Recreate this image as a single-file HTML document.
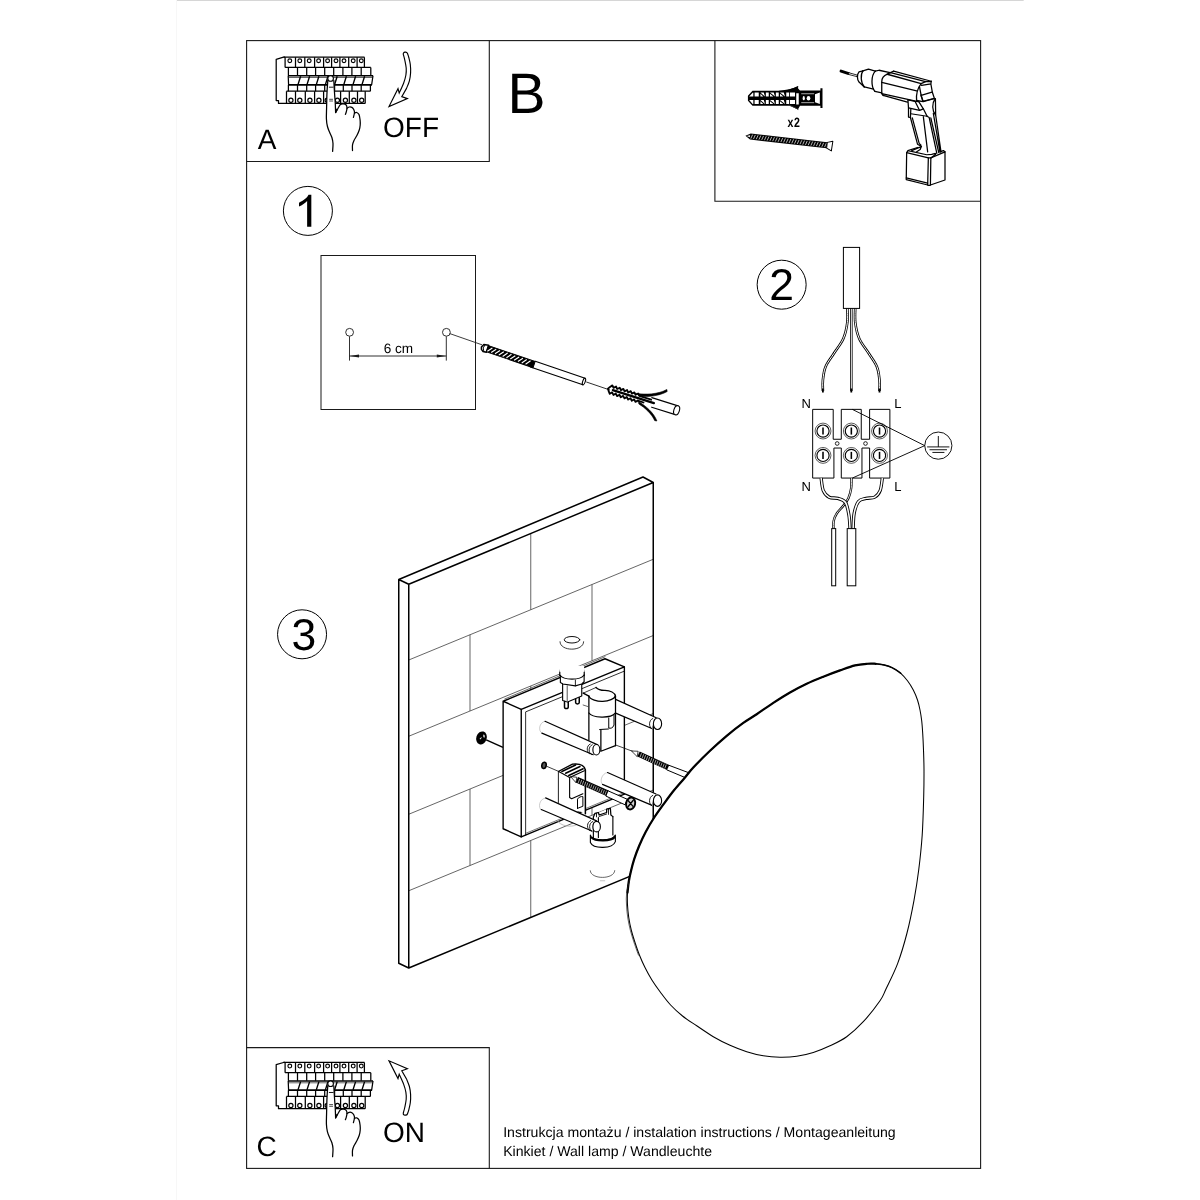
<!DOCTYPE html>
<html><head><meta charset="utf-8"><title>Instrukcja</title>
<style>
html,body{margin:0;padding:0;background:#fff;width:1200px;height:1200px;overflow:hidden}
svg{display:block;filter:grayscale(1)}
text{font-family:"Liberation Sans",sans-serif;fill:#000;text-rendering:geometricPrecision}
.k{fill:none;stroke:#000}
.w{fill:#fff;stroke:#000}
</style></head><body>
<svg width="1200" height="1200" viewBox="0 0 1200 1200">
<rect width="1200" height="1200" fill="#fff"/>
<!-- 01_frame.svg -->
<g id="frame" fill="none" stroke="#1a1a1a" stroke-width="1.1">
<line x1="176" y1="0.5" x2="1023.7" y2="0.5" stroke="#d6d6d6" stroke-width="1"/>
<line x1="176.5" y1="0" x2="176.5" y2="1200" stroke="#f7f7f7" stroke-width="1"/>
<rect x="246.6" y="40.6" width="734" height="1127.8"/>
<path d="M489.3,40.6V161.5H246.6"/>
<path d="M714.9,40.6V201.3H980.6"/>
<path d="M246.6,1047.6H489.3V1168.4"/>
</g>
<g id="labels">
<text x="257.7" y="148.9" font-size="28">A</text>
<text x="383" y="137" font-size="28">OFF</text>
<text x="507.6" y="112.8" font-size="57">B</text>
<text x="256.5" y="1156.3" font-size="28">C</text>
<text x="383" y="1142.3" font-size="28">ON</text>
<circle cx="307.9" cy="210.9" r="24.5" fill="none" stroke="#000" stroke-width="1"/>
<path d="M311.33,194.87H308.53C307.33,197.67 303.33,201 299,202.67V206.47C302,205.33 305.33,203 307.13,201V226.87H311.33Z" fill="#000"/>
<circle cx="781.65" cy="284.7" r="24.5" fill="none" stroke="#000" stroke-width="1"/>
<text x="781.5" y="299.6" font-size="44.5" text-anchor="middle">2</text>
<circle cx="302.05" cy="634.3" r="24.5" fill="none" stroke="#000" stroke-width="1"/>
<text x="303.8" y="650.2" font-size="44.5" text-anchor="middle">3</text>
<text x="503.2" y="1137" font-size="14.1">Instrukcja montażu / instalation instructions / Montageanleitung</text>
<text x="503.2" y="1155.9" font-size="14.1">Kinkiet / Wall lamp / Wandleuchte</text>
</g>

<!-- 02_breaker.svg -->
<defs><g id="brk">
<g fill="none" stroke="#000" stroke-width="1.25" stroke-linejoin="round">
<path d="M285.1,57.2H283.5L276.2,59.3V100.5H278.5V103.4H365.2"/>
<path d="M283.5,57.2H364.5"/>
<path d="M285.1,67.4H370.8"/>
<path d="M285.1,57.2V67.4M295.5,57.2V67.4M304.8,57.2V67.4M314.6,57.2V67.4M323.6,57.2V67.4M331.6,57.2V67.4M339.9,57.2V67.4M348.7,57.2V67.4M357.1,57.2V67.4M364.4,57.2V67.4"/>
<circle cx="289.8" cy="60.8" r="1.9" stroke-width="1.15"/>
<circle cx="299.8" cy="60.8" r="1.9" stroke-width="1.15"/>
<circle cx="309.2" cy="60.8" r="1.9" stroke-width="1.15"/>
<circle cx="318.6" cy="60.8" r="1.9" stroke-width="1.15"/>
<circle cx="327.6" cy="60.8" r="1.9" stroke-width="1.15"/>
<circle cx="336.0" cy="60.8" r="1.9" stroke-width="1.15"/>
<circle cx="344.0" cy="60.8" r="1.9" stroke-width="1.15"/>
<circle cx="353.2" cy="60.8" r="1.9" stroke-width="1.15"/>
<circle cx="361.3" cy="60.8" r="1.9" stroke-width="1.15"/>
<path d="M288.4,67.4V75.5M297.5,67.4V75.5M306.7,67.4V75.5M315.6,67.4V75.5M324.7,67.4V75.5M333.7,67.4V75.5M342.9,67.4V75.5M351.9,67.4V75.5M361.2,67.4V75.5M370.8,67.4V75.5"/>
<path d="M288,75.7H373" stroke-width="1.5"/>
<path d="M289,77.5H372.5" stroke="#666" stroke-width="1"/>
<path d="M288,84.8H372" stroke-width="1.8"/>
<path d="M373,75.7L371.6,85M288.2,75.7L288.6,85"/>
<path d="M300.6,76.3L298.0,84.6M309.6,76.3L307.0,84.6M318.9,76.3L316.3,84.6M328.0,76.3L325.4,84.6M337.2,76.3L334.6,84.6M346.4,76.3L343.8,84.6M355.6,76.3L353.0,84.6M364.6,76.3L362.0,84.6" stroke-width="1.4"/>
<path d="M288.4,85V91.2M297.5,85V91.2M306.7,85V91.2M315.6,85V91.2M324.7,85V91.2M334.6,85V91.2M343.3,85V91.2M352.0,85V91.2M361.2,85V91.2M370.4,85V91.2"/>
<path d="M286.5,91.2H370.4"/>
<path d="M286.5,91.2V103.4M295.5,91.2V103.4M305.3,91.2V103.4M314.6,91.2V103.4M323.6,91.2V103.4M332.2,91.2V103.4M340.6,91.2V103.4M349.3,91.2V103.4M357.5,91.2V103.4M365.2,91.2V103.4"/>
<circle cx="290.9" cy="100.2" r="2.1" stroke-width="1.2"/>
<circle cx="299.8" cy="100.2" r="2.1" stroke-width="1.2"/>
<circle cx="309.9" cy="100.2" r="2.1" stroke-width="1.2"/>
<circle cx="318.9" cy="100.2" r="2.1" stroke-width="1.2"/>
<circle cx="327.2" cy="100.2" r="2.1" stroke-width="1.2"/>
<circle cx="337.4" cy="100.2" r="2.1" stroke-width="1.2"/>
<circle cx="345.4" cy="100.2" r="2.1" stroke-width="1.2"/>
<circle cx="353.9" cy="100.2" r="2.1" stroke-width="1.2"/>
<circle cx="361.7" cy="100.2" r="2.1" stroke-width="1.2"/>
</g>
<path d="M327.80,80.50 L327.00,92.50 L326.60,107.50 L326.40,118.75 L327.40,126.25 L329.60,132.25 L331.90,137.50 L333.00,143.50 L332.60,151.40 L352.50,150.60 L352.50,150.60 L352.50,145.00 L354.00,140.50 L357.00,135.25 L359.25,130.00 L360.20,125.00 L360.10,120.00 L359.00,114.60 L356.75,112.50 L354.50,113.00 L353.40,117.40 L354.50,112.50 L353.75,109.50 L351.90,107.40 L349.25,107.00 L347.00,108.20 L345.40,114.40 L346.30,111.75 L347.00,108.00 L346.20,105.00 L343.40,103.80 L340.40,104.40 L338.20,108.00 L335.60,112.60 L335.60,112.40 L335.25,103.00 L334.50,92.50 L333.80,80.50 Z" fill="#fff" stroke="none"/>
<g fill="none" stroke="#000" stroke-width="1.25" stroke-linecap="round" stroke-linejoin="round">
<path d="M327.80,80.50 C327.67,82.50 327.20,88.00 327.00,92.50 C326.80,97.00 326.70,103.12 326.60,107.50 C326.50,111.88 326.27,115.62 326.40,118.75 C326.53,121.88 326.87,124.00 327.40,126.25 C327.93,128.50 328.85,130.38 329.60,132.25 C330.35,134.12 331.33,135.62 331.90,137.50 C332.47,139.38 332.88,141.18 333.00,143.50 C333.12,145.82 332.67,150.08 332.60,151.40"/>
<path d="M333.80,80.50 C333.92,82.50 334.26,88.75 334.50,92.50 C334.74,96.25 335.07,99.68 335.25,103.00 C335.43,106.32 335.54,110.83 335.60,112.40"/>
<path d="M335.60,112.60 C336.03,111.83 337.40,109.37 338.20,108.00 C339.00,106.63 339.53,105.10 340.40,104.40 C341.27,103.70 342.43,103.70 343.40,103.80 C344.37,103.90 345.60,104.30 346.20,105.00 C346.80,105.70 346.98,106.88 347.00,108.00 C347.02,109.12 346.57,110.68 346.30,111.75 C346.03,112.82 345.55,113.96 345.40,114.40"/>
<path d="M347.00,108.20 C347.38,108.00 348.43,107.13 349.25,107.00 C350.07,106.87 351.15,106.98 351.90,107.40 C352.65,107.82 353.32,108.65 353.75,109.50 C354.18,110.35 354.56,111.18 354.50,112.50 C354.44,113.82 353.58,116.58 353.40,117.40"/>
<path d="M354.50,113.00 C354.88,112.92 356.00,112.23 356.75,112.50 C357.50,112.77 358.44,113.35 359.00,114.60 C359.56,115.85 359.90,118.27 360.10,120.00 C360.30,121.73 360.34,123.33 360.20,125.00 C360.06,126.67 359.78,128.29 359.25,130.00 C358.72,131.71 357.88,133.50 357.00,135.25 C356.12,137.00 354.75,138.88 354.00,140.50 C353.25,142.12 352.75,143.32 352.50,145.00 C352.25,146.68 352.50,149.67 352.50,150.60"/>
<path d="M335.6,112.6L335.7,108.6L337.2,109.6Z" fill="#000" stroke-width="0.5"/>
<path d="M329.3,87.2H333.1" stroke-width="0.9"/>
<path d="M329.6,99.3H332.6M329.6,101H332.6" stroke-width="0.7"/>
<circle cx="330.6" cy="78.4" r="2.8" fill="#fff" stroke-width="1.1"/>
</g>
</g>
<path id="arw" d="M403.30,54.30 C403.54,55.22 404.27,57.52 404.75,59.80 C405.23,62.08 406.01,65.47 406.20,68.00 C406.39,70.53 406.33,72.47 405.90,75.00 C405.47,77.53 404.72,80.18 403.60,83.20 C402.48,86.22 399.93,91.45 399.20,93.10 L398,88.7 L389,106.5 L407.4,98.6 L401.8,96.6 L406.5,88.4 C406.98,87.13 408.72,83.42 409.40,80.80 C410.08,78.18 410.45,75.42 410.60,72.70 C410.75,69.98 410.60,67.03 410.30,64.50 C410.00,61.97 409.28,59.37 408.80,57.50 C408.32,55.63 407.63,54.00 407.40,53.30 C406.9,51.6 402.7,51.6 403.3,54.3Z" fill="#fff" stroke="#000" stroke-width="1.15" stroke-linejoin="miter"/>
</defs>
<use href="#brk"/>
<use href="#arw"/>
<use href="#brk" transform="translate(0,1005.3)"/>
<use href="#arw" transform="translate(0,1167.3) scale(1,-1)"/>
<!-- 03_tools.svg -->
<g id="tanchor" transform="translate(740,80) scale(0.083333)">
<path d="M95,190L150,130H540L690,80L700,105L720,125H965V100H990V335H965V310H720L695,355L600,310H150L95,250Z" fill="#000"/>
<path d="M110,198L152,152H160V198ZM110,240H160V288H152ZM175,150H225V198H175ZM175,240H225V288H175ZM310,150H345V198H310ZM310,240H345V288H310ZM430,150H465V198H430ZM430,240H465V288H430ZM555,150H590V198H555ZM555,240H590V288H555ZM600,150H660V198H600ZM600,240H660V288H600ZM245,150H285L300,198ZM245,165L280,198H245ZM245,240H285L300,288ZM245,255L280,288H245ZM360,150H405L420,198ZM360,165L400,198H360ZM360,240H405L420,288ZM360,255L400,288H360ZM480,150H525L540,198ZM480,165L520,198H480ZM480,240H525L540,288ZM480,255L520,288H480ZM675,160H705V295H675ZM900,172L958,150V287L900,268Z" fill="#fff"/>
<ellipse cx="765" cy="218" rx="13" ry="26" fill="#fff"/><ellipse cx="822" cy="218" rx="22" ry="27" fill="#fff"/>
<path d="M735,165H890M735,272H890" stroke="#fff" stroke-width="8"/>
<path d="M470,136C560,130 640,110 692,82" stroke="#000" stroke-width="17" fill="none" stroke-linecap="round"/>
<path d="M585,300C630,318 670,335 697,352" stroke="#333" stroke-width="11" fill="none" stroke-linecap="round"/>
</g>
<g transform="translate(740,80) scale(0.083333) translate(65,670) rotate(6.55)">
<path d="M0,0L60,-36H985V38H60Z" fill="#000"/>
<path d="M84,-24L68,26M117,-24L101,26M150,-24L134,26M183,-24L167,26M216,-24L200,26M249,-24L233,26M282,-24L266,26M315,-24L299,26M348,-24L332,26M381,-24L365,26M414,-24L398,26M447,-24L431,26M480,-24L464,26M513,-24L497,26M546,-24L530,26M579,-24L563,26M612,-24L596,26M645,-24L629,26M678,-24L662,26M711,-24L695,26M744,-24L728,26M777,-24L761,26M810,-24L794,26M843,-24L827,26M876,-24L860,26M909,-24L893,26M942,-24L926,26M975,-24L959,26" stroke="#fff" stroke-width="8"/>
<path d="M15,-1L55,-14V12Z" fill="#fff"/>
<path d="M985,-34L1050,-55L1045,62L985,36Z" fill="#fff" stroke="#000" stroke-width="12" stroke-linejoin="round"/>
</g>
<text transform="translate(787.6,127.4) scale(0.78,1)" font-size="13.6" font-weight="bold" letter-spacing="0.6">x2</text>
<g transform="translate(835,62) scale(0.091667)" fill="none" stroke="#000" stroke-width="14" stroke-linecap="round" stroke-linejoin="round">
<path d="M66,99L150,126" stroke-width="32"/>
<path d="M150,117L243,143L241,160L148,136Z" fill="#fff" stroke-width="9"/>
<path d="M262,108C238,135 240,190 262,218M262,108L305,96M262,218L320,272"/>
<path d="M305,96C276,135 280,230 320,272"/>
<path d="M305,96L365,78L440,100M320,272L420,296"/>
<path d="M440,100C392,150 392,270 435,320"/>
<path d="M440,100L480,90L600,116M435,320L510,337"/>
<path d="M570,132C525,150 510,178 510,215L510,345L525,365M570,132L640,100"/>
<path d="M640,100L1050,210M605,117L988,214M510,222L890,316M510,345L880,427M525,365L790,437"/>
<path d="M570,134L940,236" stroke-width="15"/>
<path d="M1050,210L1046,240L1062,330L1085,400M940,236L988,214L1050,212M945,254L1046,238"/>
<path d="M940,236C902,285 882,330 890,420"/>
<path d="M922,272L940,365L962,432M940,365L1058,328M962,432L1080,400M890,420L962,432"/>
</g>
<g transform="translate(890,90) scale(0.083333)" fill="none" stroke="#000" stroke-width="15" stroke-linecap="round" stroke-linejoin="round">
<path d="M215,118L300,136L345,140"/>
<path d="M215,118L222,215L222,325L245,330L250,228"/>
<path d="M222,215L355,245L400,226M250,285L445,315"/>
<path d="M300,136L355,245M345,140L400,226L445,315"/>
<path d="M370,60L395,135M395,135L535,100"/>
<path d="M245,330L330,650L378,678M268,335L350,640L372,662"/>
<path d="M400,320L452,742"/>
<path d="M445,315L470,330L562,760M490,335L585,750"/>
<path d="M545,105L548,300L612,742M520,280L600,745"/>
<path d="M542,105C500,160 505,250 546,300"/>
<path d="M200,752L195,1075L452,1140L460,815Z" fill="#fff"/>
<path d="M490,815L660,742L660,1080L485,1140Z" fill="#fff"/>
<path d="M460,815L490,815M452,1140Q470,1150 485,1140"/>
<path d="M200,752L215,727L330,690M215,727L440,777L500,772L545,760M490,815L545,775L545,760M660,742L640,727L600,742"/>
<path d="M195,1055L452,1118"/>
<path d="M260,727L345,692L375,680L362,715L320,742"/>
</g>
<!-- 04_step1.svg -->
<g fill="none" stroke="#1a1a1a" stroke-width="1">
<rect x="321" y="255.5" width="154.5" height="154"/>
<circle cx="349.6" cy="332.3" r="3.9" stroke-width="0.9"/><circle cx="446.4" cy="332.3" r="3.9" stroke-width="0.9"/>
<path d="M349.5,336.4V360.6M446.3,336.4V360.6M349.5,356H446.3" stroke-width="0.9"/>
<path d="M349.8,356L359,354.5V357.5ZM446,356L436.8,354.5V357.5Z" fill="#1a1a1a" stroke="none"/>
<path d="M449.8,333.6L482,344.8" stroke-width="0.85"/>
</g>
<text x="398.4" y="353" font-size="13.6" text-anchor="middle">6 cm</text>
<g transform="translate(470,330) scale(0.18333)" fill="none" stroke="#000" stroke-width="6" stroke-linejoin="round" stroke-linecap="round">
<path d="M636,284L762,327" stroke-width="4.5"/>
<g transform="translate(80,97) rotate(18.75)">
<path d="M-18,2L-10,-16L16,-20V20L-2,22L-14,14Z" fill="#fff" stroke-width="8"/>
<path d="M-2,-18L-8,2L2,20" stroke-width="5"/>
<path d="M16,-18H285V18H16Z" fill="#000" stroke-width="5"/>
<path d="M20,13L40,-13M42,13L62,-13M64,13L84,-13M86,13L106,-13M108,13L128,-13M130,13L150,-13M152,13L172,-13M174,13L194,-13M196,13L216,-13M218,13L238,-13M240,13L260,-13" stroke="#fff" stroke-width="6.5" stroke-linecap="butt"/>
<path d="M285,-19H572M270,19H572" stroke-width="6.5"/>
<ellipse cx="572" cy="0" rx="7" ry="19" fill="#fff" stroke-width="6"/>
</g>
<g transform="translate(760,322) rotate(17.5)">
<path d="M235,-25H385M250,25H385" stroke-width="6"/>
<ellipse cx="385" cy="0" rx="15" ry="26" fill="#fff" stroke-width="6"/>
<path d="M150,-22C200,-30 262,-52 300,-92L305,-82C272,-46 215,-22 175,-14Z" fill="#000" stroke-width="3"/>
<path d="M170,16C215,28 268,48 300,88L288,90C262,60 215,38 180,30Z" fill="#000" stroke-width="3"/>
<path d="M-8,0L0,-12L10,-24L20,-13L31,-24L41,-13L52,-24L62,-13L73,-24L83,-13L94,-24L104,-13L115,-24L125,-13L136,-24L146,-13L157,-24L167,-13L235,-13M-8,0L0,12L10,24L20,13L31,24L41,13L52,24L62,13L73,24L83,13L94,24L104,13L115,24L125,13L136,24L146,13L157,24L167,13L200,14" stroke-width="10"/>
<path d="M20,0H255" stroke-width="12"/>
</g>
</g>
<!-- 05_step2.svg -->
<path d="M847.30,306.00 C847.30,308.78 847.97,317.25 847.30,322.70 C846.63,328.15 845.52,333.60 843.30,338.70 C841.08,343.80 836.95,348.63 834.00,353.30 C831.05,357.97 827.45,362.25 825.60,366.70 C823.75,371.15 823.35,375.95 822.90,380.00 C822.45,384.05 822.90,389.17 822.90,391.00" fill="none" stroke="#000" stroke-width="2.60" stroke-linecap="butt"/>
<path d="M847.30,306.00 C847.30,308.78 847.97,317.25 847.30,322.70 C846.63,328.15 845.52,333.60 843.30,338.70 C841.08,343.80 836.95,348.63 834.00,353.30 C831.05,357.97 827.45,362.25 825.60,366.70 C823.75,371.15 823.35,375.95 822.90,380.00 C822.45,384.05 822.90,389.17 822.90,391.00" fill="none" stroke="#fff" stroke-width="1.00" stroke-linecap="butt"/>
<path d="M855.30,306.00 C855.30,308.78 854.63,317.25 855.30,322.70 C855.97,328.15 857.07,333.60 859.30,338.70 C861.53,343.80 865.77,348.63 868.70,353.30 C871.63,357.97 875.10,362.25 876.90,366.70 C878.70,371.15 879.07,375.95 879.50,380.00 C879.93,384.05 879.50,389.17 879.50,391.00" fill="none" stroke="#000" stroke-width="2.60" stroke-linecap="butt"/>
<path d="M855.30,306.00 C855.30,308.78 854.63,317.25 855.30,322.70 C855.97,328.15 857.07,333.60 859.30,338.70 C861.53,343.80 865.77,348.63 868.70,353.30 C871.63,357.97 875.10,362.25 876.90,366.70 C878.70,371.15 879.07,375.95 879.50,380.00 C879.93,384.05 879.50,389.17 879.50,391.00" fill="none" stroke="#fff" stroke-width="1.00" stroke-linecap="butt"/>
<path d="M851.3,306V391" fill="none" stroke="#000" stroke-width="2.60" stroke-linecap="butt"/>
<path d="M851.3,306V391" fill="none" stroke="#fff" stroke-width="1.00" stroke-linecap="butt"/>
<path d="M822.9,388.5V392.6M851.3,388.5V392.6M879.5,388.5V392.6" stroke="#000" stroke-width="1.8" fill="none"/>
<rect x="843.4" y="247.4" width="16.2" height="61" fill="#fff" stroke="#000" stroke-width="1"/>
<g transform="translate(790,385) scale(0.141667)" fill="none" stroke="#000" stroke-width="7" stroke-linejoin="miter">
<path d="M160,172H305V383H362V172H503V383H562V172H705V657H562V445H508V657H362V445H310V657H160Z" fill="#fff"/>
<circle cx="233" cy="325" r="56" stroke-width="4.5"/><circle cx="233" cy="325" r="43" stroke-width="8"/><path d="M233,300V350" stroke-width="11"/>
<circle cx="233" cy="497" r="56" stroke-width="4.5"/><circle cx="233" cy="497" r="43" stroke-width="8"/><path d="M233,472V522" stroke-width="11"/>
<circle cx="433" cy="325" r="56" stroke-width="4.5"/><circle cx="433" cy="325" r="43" stroke-width="8"/><path d="M433,300V350" stroke-width="11"/>
<circle cx="433" cy="497" r="56" stroke-width="4.5"/><circle cx="433" cy="497" r="43" stroke-width="8"/><path d="M433,472V522" stroke-width="11"/>
<circle cx="632" cy="325" r="56" stroke-width="4.5"/><circle cx="632" cy="325" r="43" stroke-width="8"/><path d="M632,300V350" stroke-width="11"/>
<circle cx="632" cy="497" r="56" stroke-width="4.5"/><circle cx="632" cy="497" r="43" stroke-width="8"/><path d="M632,472V522" stroke-width="11"/>
<circle cx="333" cy="413" r="13" stroke-width="6"/><circle cx="533" cy="413" r="13" stroke-width="6"/>
<circle cx="1047" cy="428" r="96" stroke-width="6.5" fill="#fff"/>
<path d="M1047,360V437M968,437H1125M985,457H1108M1005,476H1090" stroke-width="6.5"/>
<path d="M440,172L951,428L440,657" stroke-width="6.5"/>
</g>
<text x="801.6" y="408" font-size="13">N</text><text x="801.6" y="490.6" font-size="13">N</text>
<text x="894.2" y="408" font-size="13">L</text><text x="894.2" y="490.6" font-size="13">L</text>
<path d="M851.46,478.13 C851.41,479.84 851.64,485.08 851.14,488.42 C850.63,491.76 849.73,495.28 848.43,498.17 C847.13,501.06 845.27,503.22 843.34,505.75 C841.40,508.28 838.44,510.81 836.84,513.34 C835.23,515.86 834.25,518.30 833.69,520.92 C833.13,523.54 833.51,527.69 833.48,529.05" fill="none" stroke="#000" stroke-width="2.40" stroke-linecap="butt"/>
<path d="M851.46,478.13 C851.41,479.84 851.64,485.08 851.14,488.42 C850.63,491.76 849.73,495.28 848.43,498.17 C847.13,501.06 845.27,503.22 843.34,505.75 C841.40,508.28 838.44,510.81 836.84,513.34 C835.23,515.86 834.25,518.30 833.69,520.92 C833.13,523.54 833.51,527.69 833.48,529.05" fill="none" stroke="#fff" stroke-width="0.90" stroke-linecap="butt"/>
<path d="M882.34,478.13 C881.98,480.20 881.44,487.43 880.17,490.59 C878.91,493.75 877.10,495.79 874.76,497.09 C872.41,498.39 868.80,497.66 866.09,498.39 C863.38,499.11 860.49,498.93 858.50,501.42 C856.52,503.91 855.07,508.73 854.17,513.34 C853.27,517.94 853.27,526.43 853.09,529.05" fill="none" stroke="#000" stroke-width="3.30" stroke-linecap="butt"/>
<path d="M882.34,478.13 C881.98,480.20 881.44,487.43 880.17,490.59 C878.91,493.75 877.10,495.79 874.76,497.09 C872.41,498.39 868.80,497.66 866.09,498.39 C863.38,499.11 860.49,498.93 858.50,501.42 C856.52,503.91 855.07,508.73 854.17,513.34 C853.27,517.94 853.27,526.43 853.09,529.05" fill="none" stroke="#fff" stroke-width="1.50" stroke-linecap="butt"/>
<path d="M821.13,478.13 C821.49,480.20 821.94,487.39 823.29,490.59 C824.65,493.78 826.81,496.00 829.25,497.30 C831.69,498.60 835.21,497.52 837.92,498.39 C840.63,499.25 843.66,499.65 845.50,502.50 C847.35,505.36 848.21,511.08 848.97,515.50 C849.73,519.93 849.87,526.79 850.05,529.05" fill="none" stroke="#000" stroke-width="3.30" stroke-linecap="butt"/>
<path d="M821.13,478.13 C821.49,480.20 821.94,487.39 823.29,490.59 C824.65,493.78 826.81,496.00 829.25,497.30 C831.69,498.60 835.21,497.52 837.92,498.39 C840.63,499.25 843.66,499.65 845.50,502.50 C847.35,505.36 848.21,511.08 848.97,515.50 C849.73,519.93 849.87,526.79 850.05,529.05" fill="none" stroke="#fff" stroke-width="1.50" stroke-linecap="butt"/>
<rect x="831.7" y="528.6" width="4" height="57.2" fill="#fff" stroke="#000" stroke-width="1"/>
<rect x="847.2" y="528.6" width="8.6" height="57.2" fill="#fff" stroke="#000" stroke-width="1"/>
<!-- 06_wall.svg -->
<g id="wall" stroke-linejoin="round">
<path d="M408.75,584.25L653.25,482.5V866.6L408.75,968Z" fill="#fff" stroke="none"/>
<path d="M408.75,660.00L653.25,559.27M408.75,736.25L653.25,635.52M408.75,814.25L653.25,713.52M408.75,890.75L653.25,790.02M530.75,533.47V609.74M470.00,634.76V711.01M592.00,584.50V660.75M530.75,685.99V763.99M470.00,789.01V865.51M592.00,738.75V815.25M530.75,840.49V917.41" fill="none" stroke="#4a4a4a" stroke-width="0.85"/>
<path d="M398.75,579.5L643,477L653.25,482.5L408.75,584.25ZM398.75,579.5V963.25L408.75,968V584.25M408.75,968L653.25,866.6M653.25,482.5V866.6" fill="none" stroke="#000" stroke-width="1.5"/>
</g>
<!-- 07_mount.svg -->
<defs><linearGradient id="fd" gradientUnits="userSpaceOnUse" x1="0" y1="232" x2="0" y2="262"><stop offset="0" stop-color="#fff"/><stop offset="1" stop-color="#000"/></linearGradient></defs>
<ellipse cx="481.5" cy="737.9" rx="5.2" ry="6.6" transform="rotate(18 481.5 737.9)" fill="#000"/>
<path d="M483.3,734.6l1.2,0.3l0.3,2.6l-1.4,-0.2zM479.6,738.8l1.6,-1.6l0.6,0.5l-1.6,1.8z" fill="#fff"/>
<path d="M486.2,739.9L503,747.4" stroke="#000" stroke-width="1.5" fill="none"/>
<g transform="translate(495,640) scale(0.125)" fill="none" stroke="#000" stroke-width="10" stroke-linejoin="round" stroke-linecap="round">
<path d="M520,14C520,94 709,94 709,14" stroke="#222" stroke-width="7"/>
<ellipse cx="616" cy="-2" rx="62" ry="26" stroke="#111" stroke-width="8"/>
<path d="M78,472L880,134" stroke-width="6" stroke="#333"/>
<path d="M65,490L880,150L1035,215V1233L210,1575L65,1510Z" fill="#fff" stroke="none"/>
<path d="M65,490L880,150L1035,215M65,490V1510L210,1575V555L65,490" stroke-width="11"/>
<path d="M210,555L1035,215V1233M210,1575L1035,1233" stroke-width="11"/>
<path d="M245,1560V575L1030,251" stroke-width="6.5"/>
<path d="M245,1547L1030,1222" stroke-width="5" stroke="#222"/>
<path d="M500,1445C520,1490 610,1500 650,1480" stroke="#aaa" stroke-width="6"/>
<path d="M705,425L750,445M705,520L742,532" stroke-width="6" stroke="#333"/>
<path d="M965,475L1290,620L1250,705L965,585Z" fill="#fff" stroke="none"/>
<path d="M965,475L1290,622M965,585L1250,706" stroke-width="9"/>
<path d="M1262,628C1228,640 1228,700 1256,712" stroke-width="7"/>
<ellipse cx="1300" cy="670" rx="33" ry="46" fill="#fff" stroke-width="9"/>
<path d="M519,232V286M713,232V286" stroke="url(#fd)" stroke-width="8"/>
<path d="M519,205H713V300C680,330 560,330 519,295Z" fill="#fff" stroke="none"/>
<path d="M519,258V286M713,258V286" stroke-width="8"/>
<path d="M541,350V484L580,496L694,448V350Z" fill="#fff" stroke-width="9"/>
<path d="M578,366V494" stroke="#777" stroke-width="10"/>
<path d="M523,284V340L544,352L643,367L694,352L713,334V280Z" fill="#fff" stroke="none"/>
<path d="M523,284V340L544,352L643,367L694,352L713,334V280" stroke-width="9"/>
<path d="M643,320V367" stroke-width="7"/>
<path d="M519,280C550,324 682,324 713,280" stroke-width="9"/>
<path d="M556,492V535C556,552 586,552 586,535V496" stroke-width="12"/>
<path d="M645,474V500C645,515 674,515 674,500V462" stroke-width="12"/>
<path d="M751,449V800L847,890L964,845V449C958,410 900,400 880,403C850,404 826,398 808,380L706,425Z" fill="#fff" stroke="none"/>
<path d="M706,425L808,380" stroke-width="6"/>
<path d="M706,425L751,449" stroke-width="11"/>
<path d="M808,380C826,398 850,404 880,403C922,404 958,422 964,449" stroke-width="11"/>
<path d="M751,449C760,476 820,493 862,491C910,488 958,470 962,449" stroke-width="11"/>
<path d="M751,449V800M964,449V845" stroke-width="10"/>
<path d="M751,584C778,622 922,632 964,584" stroke-width="10"/>
<path d="M847,716V890L964,845M838,716L906,712" stroke-width="10"/>
<path d="M910,623V704C922,710 946,704 952,680V602" stroke-width="8"/>
<path d="M400,650L820,838L785,917L375,745C345,730 350,660 400,650Z" fill="#fff" stroke="none"/>
<path d="M400,650C350,660 345,730 375,745" stroke="#bbb" stroke-width="6"/>
<path d="M400,650L822,839M375,745L786,918" stroke-width="9"/>
<path d="M778,838C745,850 745,905 772,917M762,832C730,844 730,898 756,910" stroke-width="7"/>
<ellipse cx="811" cy="878" rx="28" ry="42" fill="#fff" stroke-width="9"/>
<path d="M965,840L1100,890" stroke-width="6"/>
<path d="M1095,888L1145,890L1138,930Z" fill="#fff" stroke-width="6"/>
<path d="M1148,912L1385,1020" stroke-width="44" stroke-linecap="butt"/>
<path d="M1160,938 l12,-32M1177,946 l12,-32M1193,953 l12,-32M1210,961 l12,-32M1226,968 l12,-32M1243,976 l12,-32M1259,983 l12,-32M1276,991 l12,-32M1292,998 l12,-32M1309,1006 l12,-32M1325,1013 l12,-32M1342,1021 l12,-32M1358,1028 l12,-32" stroke="#fff" stroke-width="5" stroke-linecap="butt"/>
<path d="M1393,1003L1545,1060M1377,1040L1515,1098" stroke-width="8"/>
<ellipse cx="392" cy="1003" rx="17" ry="25" transform="rotate(12 392 1003)" stroke-width="13" fill="#555"/>
<path d="M413,1010L513,1053" stroke-width="6"/>
<path d="M507,1052V1325L640,1352L723,1390V1040C715,1000 670,990 620,993Z" fill="#fff" stroke="none"/>
<path d="M510,1050L620,993C670,988 715,1000 723,1040" stroke-width="11"/>
<path d="M510,1052L597,1100L715,1046" stroke-width="9"/>
<path d="M535,1052L645,1000M565,1066L680,1012M590,1084L705,1030" stroke-width="12"/>
<path d="M507,1052V1300" stroke-width="7"/>
<path d="M723,1040V1390" stroke-width="12"/>
<path d="M597,1100V1260L613,1270L703,1230" stroke-width="9"/>
<path d="M660,1347V1273C667,1256 693,1250 703,1253V1330L660,1347" stroke-width="8"/>
<path d="M900,1060L1285,1230L1250,1320L860,1155C830,1140 840,1065 900,1060Z" fill="#fff" stroke="none"/>
<path d="M900,1060C850,1066 835,1140 860,1155" stroke="#bbb" stroke-width="6"/>
<path d="M900,1060L1288,1232M860,1155L1252,1321" stroke-width="9"/>
<path d="M1262,1243C1228,1255 1228,1315 1256,1327" stroke-width="7"/>
<ellipse cx="1300" cy="1285" rx="33" ry="46" fill="#fff" stroke-width="9"/>
<path d="M608,1093L655,1098L648,1138Z" fill="#fff" stroke-width="6"/>
<path d="M655,1118L900,1226" stroke-width="46" stroke-linecap="butt"/>
<path d="M665,1144 l12,-32M682,1151 l12,-32M698,1158 l12,-32M715,1166 l12,-32M731,1173 l12,-32M748,1180 l12,-32M764,1187 l12,-32M781,1195 l12,-32M797,1202 l12,-32M814,1209 l12,-32M830,1216 l12,-32M847,1224 l12,-32M863,1231 l12,-32M880,1238 l12,-32" stroke="#fff" stroke-width="5" stroke-linecap="butt"/>
<path d="M905,1207L1060,1275L1040,1318L890,1250Z" fill="#fff" stroke-width="8"/>
<ellipse cx="1085" cy="1308" rx="36" ry="48" transform="rotate(12 1085 1308)" fill="#d0d0d0" stroke-width="15"/>
<path d="M1066,1286L1104,1331M1106,1282L1064,1334" stroke-width="10"/>
<path d="M787,1413V1590H943V1413L927,1347L893,1353L833,1380L800,1387Z" fill="#fff" stroke="none"/>
<path d="M787,1416V1587M943,1413V1560M827,1420V1580" stroke-width="9"/>
<path d="M787,1416L800,1387L827,1380L833,1400L893,1380L893,1353L923,1347L927,1400L943,1413" stroke-width="10"/>
<path d="M833,1412L893,1392M812,1386V1415M908,1350V1395" stroke-width="7"/>
<path d="M763,1560V1620C787,1673 940,1673 963,1613V1560C940,1613 773,1613 763,1560Z" fill="#fff" stroke-width="9"/>
<path d="M770,1578C800,1612 930,1612 958,1576" stroke-width="17" stroke-linecap="butt"/>
<path d="M400,1265L800,1440L760,1520L370,1360C340,1345 350,1272 400,1265Z" fill="#fff" stroke="none"/>
<path d="M400,1265C350,1275 345,1345 370,1360" stroke="#bbb" stroke-width="6"/>
<path d="M405,1263L812,1447M370,1356L775,1528" stroke-width="9"/>
<path d="M782,1452C749,1464 749,1520 776,1532M765,1445C732,1457 732,1512 759,1525" stroke-width="7"/>
<ellipse cx="813" cy="1493" rx="30" ry="42" fill="#fff" stroke-width="9"/>
<path d="M762,1846C765,1918 955,1918 958,1845" stroke="#222" stroke-width="5.5"/>
<path d="M842,1926H878" stroke="#bbb" stroke-width="7"/>
</g>
<!-- 09_egg.svg -->
<path d="M867.50,663.75 C870.97,663.48 873.02,663.54 875.80,663.75 C878.58,663.96 881.42,664.31 884.20,665.00 C886.98,665.69 889.73,666.52 892.50,667.90 C895.27,669.28 898.30,671.15 900.80,673.30 C903.30,675.45 905.42,678.02 907.50,680.80 C909.58,683.58 911.63,686.80 913.30,690.00 C914.97,693.20 916.38,696.67 917.50,700.00 C918.62,703.33 919.30,706.53 920.00,710.00 C920.70,713.47 921.25,716.92 921.70,720.80 C922.15,724.68 922.40,728.43 922.70,733.30 C923.00,738.17 923.28,743.88 923.50,750.00 C923.72,756.12 923.97,762.22 924.00,770.00 C924.03,777.78 924.00,785.87 923.70,796.70 C923.40,807.53 923.03,822.78 922.20,835.00 C921.37,847.22 920.07,859.12 918.70,870.00 C917.33,880.88 915.95,889.80 914.00,900.30 C912.05,910.80 909.72,922.48 907.00,933.00 C904.28,943.52 901.20,954.07 897.70,963.40 C894.20,972.73 888.95,982.77 886.00,989.00 C883.05,995.23 883.78,995.35 880.00,1000.80 C876.22,1006.25 868.85,1015.72 863.30,1021.70 C857.75,1027.68 852.25,1032.68 846.70,1036.70 C841.15,1040.72 835.57,1043.17 830.00,1045.80 C824.43,1048.43 818.85,1050.75 813.30,1052.50 C807.75,1054.25 802.25,1055.52 796.70,1056.30 C791.15,1057.08 785.57,1057.28 780.00,1057.20 C774.43,1057.12 768.85,1056.72 763.30,1055.80 C757.75,1054.88 752.25,1053.45 746.70,1051.70 C741.15,1049.95 735.57,1047.80 730.00,1045.30 C724.43,1042.80 718.85,1039.95 713.30,1036.70 C707.75,1033.45 701.83,1029.25 696.70,1025.80 C691.57,1022.35 686.85,1019.47 682.50,1016.00 C678.15,1012.53 674.25,1008.92 670.60,1005.00 C666.95,1001.08 663.72,996.67 660.60,992.50 C657.48,988.33 654.50,984.17 651.90,980.00 C649.30,975.83 647.08,971.67 645.00,967.50 C642.92,963.33 641.07,959.17 639.40,955.00 C637.73,950.83 636.36,946.67 635.00,942.50 C633.64,938.33 632.29,934.17 631.25,930.00 C630.21,925.83 629.38,921.67 628.75,917.50 C628.12,913.33 627.71,909.17 627.50,905.00 C627.29,900.83 627.29,896.38 627.50,892.50 C627.71,888.62 628.20,885.17 628.75,881.70 C629.30,878.23 629.89,875.45 630.80,871.70 C631.71,867.95 632.80,863.52 634.20,859.20 C635.60,854.88 637.27,850.38 639.20,845.80 C641.13,841.22 643.30,836.42 645.80,831.70 C648.30,826.98 651.13,822.23 654.20,817.50 C657.27,812.77 660.87,807.88 664.20,803.30 C667.53,798.72 670.73,794.30 674.20,790.00 C677.67,785.70 681.82,781.25 685.00,777.50 C688.18,773.75 689.13,771.95 693.30,767.50 C697.47,763.05 704.43,756.08 710.00,750.80 C715.57,745.52 721.15,740.45 726.70,735.80 C732.25,731.15 738.30,726.50 743.30,722.90 C748.30,719.30 751.70,717.53 756.70,714.20 C761.70,710.87 767.75,706.52 773.30,702.90 C778.85,699.28 784.43,695.69 790.00,692.50 C795.57,689.31 801.15,686.38 806.70,683.75 C812.25,681.12 817.75,678.93 823.30,676.70 C828.85,674.48 834.72,672.28 840.00,670.40 C845.28,668.52 850.42,666.51 855.00,665.40 C859.58,664.29 864.03,664.02 867.50,663.75Z" fill="#fff" stroke="#000" stroke-width="1.05"/>
<path d="M627.50,892.50 C627.71,890.70 628.20,885.17 628.75,881.70 C629.30,878.23 629.89,875.45 630.80,871.70 C631.71,867.95 632.80,863.52 634.20,859.20 C635.60,854.88 637.27,850.38 639.20,845.80 C641.13,841.22 643.30,836.42 645.80,831.70 C648.30,826.98 651.13,822.23 654.20,817.50 C657.27,812.77 660.87,807.88 664.20,803.30 C667.53,798.72 670.73,794.30 674.20,790.00 C677.67,785.70 681.82,781.25 685.00,777.50 C688.18,773.75 689.13,771.95 693.30,767.50 C697.47,763.05 704.43,756.08 710.00,750.80 C715.57,745.52 721.15,740.45 726.70,735.80 C732.25,731.15 738.30,726.50 743.30,722.90 C748.30,719.30 751.70,717.53 756.70,714.20 C761.70,710.87 767.75,706.52 773.30,702.90 C778.85,699.28 784.43,695.69 790.00,692.50 C795.57,689.31 801.15,686.38 806.70,683.75 C812.25,681.12 817.75,678.93 823.30,676.70 C828.85,674.48 834.72,672.28 840.00,670.40 C845.28,668.52 850.42,666.51 855.00,665.40 C859.58,664.29 864.03,664.02 867.50,663.75 C870.97,663.48 874.42,663.75 875.80,663.75" fill="none" stroke="#000" stroke-width="2.25" stroke-linecap="round"/>
<path d="M875.80,663.75 C877.20,663.96 881.42,664.31 884.20,665.00 C886.98,665.69 889.73,666.52 892.50,667.90 C895.27,669.28 899.42,672.40 900.80,673.30" fill="none" stroke="#000" stroke-width="1.5" stroke-linecap="round"/>
<path d="M629.60,880.00 C629.10,882.17 627.12,888.83 626.60,893.00 C626.08,897.17 626.30,900.83 626.50,905.00 C626.70,909.17 627.15,913.75 627.80,918.00 C628.45,922.25 629.33,926.33 630.40,930.50 C631.47,934.67 632.83,938.83 634.20,943.00 C635.57,947.17 637.87,953.42 638.60,955.50" fill="none" stroke="#222" stroke-width="0.7"/>
</svg>
</body></html>
